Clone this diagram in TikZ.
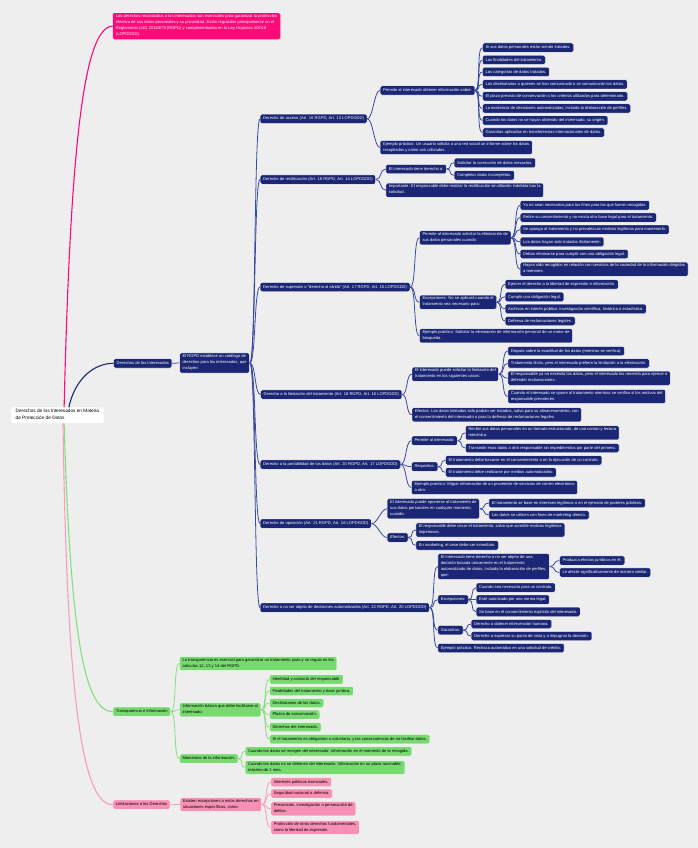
\documentclass[tikz,border=0pt]{standalone}
\usepackage{fontspec}
\setmainfont{Liberation Sans}
\usepackage{xcolor}
\usepackage{tikz}

\definecolor{bgcol}{HTML}{EEEEEE}
\definecolor{navyfill}{HTML}{1B2774}
\definecolor{navyline}{HTML}{3A4A9E}
\definecolor{greenfill}{HTML}{77D970}
\definecolor{greenline}{HTML}{86DE80}
\definecolor{pinkfill}{HTML}{F790B4}
\definecolor{pinkline}{HTML}{F79CBC}
\definecolor{hotfill}{HTML}{FF0A78}

\begin{document}
\begin{tikzpicture}[x=1pt, y=-1pt,
  box/.style={anchor=west, rounded corners=1.5pt, align=left, inner xsep=3pt, inner ysep=1.7pt,
    font=\fontsize{4.1}{6}\selectfont, execute at begin node=\strut, execute at end node=\strut},
  navybox/.style={box, draw=white, line width=0.4pt, fill=navyfill, text=white},
  greenbox/.style={box, draw=white, line width=0.4pt, fill=greenfill, text=black},
  pinkbox/.style={box, draw=white, line width=0.4pt, fill=pinkfill, text=black},
  hotbox/.style={box, fill=hotfill, text=white},
  rootbox/.style={box, fill=white, text=black, inner xsep=4.5pt, inner ysep=1.6pt,
    font=\fontsize{4.7}{7}\selectfont},
  nlink/.style={draw=navyline, line width=0.8pt, out=0, in=180, distance=6pt},
  glink/.style={draw=greenline, line width=0.8pt, out=0, in=180, distance=6pt},
  plink/.style={draw=pinkline, line width=0.8pt, out=0, in=180, distance=6pt},
]
\fill[bgcol] (0,0) rectangle (698,848);

% root and first level
\node[rootbox] (root) at (11,415.3) {Derechos de los Interesados en Materia\\de Protección de Datos};
\node[hotbox] (note) at (112.7,26.2) {Los derechos reconocidos a los interesados son esenciales para garantizar la protección\\efectiva de sus datos personales y su privacidad. Están regulados principalmente en el\\Reglamento (UE) 2016/679 (RGPD) y complementados en la Ley Orgánica 3/2018\\(LOPDGDD).};
\node[navybox] (rights) at (113.5,363.3) {Derechos de los Interesados};
\node[greenbox] (transp) at (112.7,711.7) {Transparencia e información};
\node[pinkbox] (limits) at (112.7,804.7) {Limitaciones a los Derechos};

\draw[draw=hotfill, line width=1.1pt] (root.50) .. controls +(6,-250) and +(-30,0) .. (note.west);
\draw[draw=navyfill, line width=1.1pt] (root.35) .. controls +(6,-28) and +(-20,0) .. (rights.west);
\draw[draw=greenline, line width=1.1pt] (root.-50) .. controls +(6,200) and +(-30,0) .. (transp.west);
\draw[draw=pinkline, line width=1.1pt] (root.-55) .. controls +(4,280) and +(-30,0) .. (limits.west);

% derechos
\node[navybox] (catalog) at (179.4,363) {El RGPD establece un catálogo de\\derechos para los interesados, que\\incluyen:};
\draw[nlink] (rights.east) to (catalog.west);

\node[navybox] (right_1) at (260,118.8) {Derecho de acceso (Art. 15 RGPD, Art. 13 LOPDGDD)};
\node[navybox] (right_2) at (260,179.5) {Derecho de rectificación (Art. 16 RGPD, Art. 14 LOPDGDD)};
\node[navybox] (right_3) at (260,287) {Derecho de supresión o "derecho al olvido" (Art. 17 RGPD, Art. 15 LOPDGDD)};
\node[navybox] (right_4) at (260.5,394.5) {Derecho a la limitación del tratamiento (Art. 18 RGPD, Art. 16 LOPDGDD)};
\node[navybox] (right_5) at (260,464.5) {Derecho a la portabilidad de los datos (Art. 20 RGPD, Art. 17 LOPDGDD)};
\node[navybox] (right_6) at (260,523.7) {Derecho de oposición (Art. 21 RGPD, Art. 18 LOPDGDD)};
\node[navybox] (right_7) at (260,607.7) {Derecho a no ser objeto de decisiones automatizadas (Art. 22 RGPD, Art. 20 LOPDGDD)};
\draw[nlink] (catalog.east) to (right_1.west);
\draw[nlink] (catalog.east) to (right_2.west);
\draw[nlink] (catalog.east) to (right_3.west);
\draw[nlink] (catalog.east) to (right_4.west);
\draw[nlink] (catalog.east) to (right_5.west);
\draw[nlink] (catalog.east) to (right_6.west);
\draw[nlink] (catalog.east) to (right_7.west);

% acceso
\node[navybox] (acc_info) at (380,90.5) {Permite al interesado obtener información sobre:};
\node[navybox] (acc_example) at (380,147.5) {Ejemplo práctico: Un usuario solicita a una red social un informe sobre los datos\\recopilados y cómo son utilizados.};
\draw[nlink] (right_1.east) to (acc_info.west);
\draw[nlink] (right_1.east) to (acc_example.west);
\node[navybox] (acc_item_1) at (482.3,47.7) {Si sus datos personales están siendo tratados.};
\node[navybox] (acc_item_2) at (482.3,60) {Las finalidades del tratamiento.};
\node[navybox] (acc_item_3) at (482.3,72) {Las categorías de datos tratados.};
\node[navybox] (acc_item_4) at (482.3,84.3) {Los destinatarios a quienes se han comunicado o se comunicarán los datos.};
\node[navybox] (acc_item_5) at (482.3,96.3) {El plazo previsto de conservación o los criterios utilizados para determinarlo.};
\node[navybox] (acc_item_6) at (482.3,108.5) {La existencia de decisiones automatizadas, incluida la elaboración de perfiles.};
\node[navybox] (acc_item_7) at (482.3,120.5) {Cuando los datos no se hayan obtenido del interesado, su origen.};
\node[navybox] (acc_item_8) at (482.3,132.7) {Garantías aplicadas en transferencias internacionales de datos.};
\draw[nlink] (acc_info.east) to (acc_item_1.west);
\draw[nlink] (acc_info.east) to (acc_item_2.west);
\draw[nlink] (acc_info.east) to (acc_item_3.west);
\draw[nlink] (acc_info.east) to (acc_item_4.west);
\draw[nlink] (acc_info.east) to (acc_item_5.west);
\draw[nlink] (acc_info.east) to (acc_item_6.west);
\draw[nlink] (acc_info.east) to (acc_item_7.west);
\draw[nlink] (acc_info.east) to (acc_item_8.west);

% rectificacion
\node[navybox] (rect_info) at (385.7,169) {El interesado tiene derecho a:};
\node[navybox] (rect_note) at (385.7,190.3) {Importante: El responsable debe realizar la rectificación sin dilación indebida tras la\\solicitud.};
\node[navybox] (rect_item_1) at (454,162.8) {Solicitar la corrección de datos inexactos.};
\node[navybox] (rect_item_2) at (454,175.3) {Completar datos incompletos.};
\draw[nlink] (right_2.east) to (rect_info.west);
\draw[nlink] (right_2.east) to (rect_note.west);
\draw[nlink] (rect_info.east) to (rect_item_1.west);
\draw[nlink] (rect_info.east) to (rect_item_2.west);

% supresion
\node[navybox] (sup_info) at (419.3,237.8) {Permite al interesado solicitar la eliminación de\\sus datos personales cuando:};
\node[navybox] (sup_exc) at (419.3,302.2) {Excepciones: No se aplicará cuando el\\tratamiento sea necesario para:};
\node[navybox] (sup_example) at (419.3,335.8) {Ejemplo práctico: Solicitar la eliminación de información personal de un motor de\\búsqueda.};
\draw[nlink] (right_3.east) to (sup_info.west);
\draw[nlink] (right_3.east) to (sup_exc.west);
\draw[nlink] (right_3.east) to (sup_example.west);
\node[navybox] (sup_item_1) at (520,205.3) {Ya no sean necesarios para los fines para los que fueron recogidos.};
\node[navybox] (sup_item_2) at (520,217.5) {Retire su consentimiento y no exista otra base legal para el tratamiento.};
\node[navybox] (sup_item_3) at (520,229.7) {Se oponga al tratamiento y no prevalezcan motivos legítimos para mantenerlo.};
\node[navybox] (sup_item_4) at (520,241.8) {Los datos hayan sido tratados ilícitamente.};
\node[navybox] (sup_item_5) at (520,254) {Deban eliminarse para cumplir con una obligación legal.};
\node[navybox] (sup_item_6) at (520,269.3) {Hayan sido recogidos en relación con servicios de la sociedad de la información dirigidos\\a menores.};
\draw[nlink] (sup_info.east) to (sup_item_1.west);
\draw[nlink] (sup_info.east) to (sup_item_2.west);
\draw[nlink] (sup_info.east) to (sup_item_3.west);
\draw[nlink] (sup_info.east) to (sup_item_4.west);
\draw[nlink] (sup_info.east) to (sup_item_5.west);
\draw[nlink] (sup_info.east) to (sup_item_6.west);
\node[navybox] (sup_exc_1) at (505,284.3) {Ejercer el derecho a la libertad de expresión e información.};
\node[navybox] (sup_exc_2) at (505,296.8) {Cumplir una obligación legal.};
\node[navybox] (sup_exc_3) at (505,308.8) {Archivos en interés público, investigación científica, histórica o estadística.};
\node[navybox] (sup_exc_4) at (505,321) {Defensa de reclamaciones legales.};
\draw[nlink] (sup_exc.east) to (sup_exc_1.west);
\draw[nlink] (sup_exc.east) to (sup_exc_2.west);
\draw[nlink] (sup_exc.east) to (sup_exc_3.west);
\draw[nlink] (sup_exc.east) to (sup_exc_4.west);

% limitacion
\node[navybox] (lim_info) at (411.8,374.2) {El interesado puede solicitar la limitación del\\tratamiento en los siguientes casos:};
\node[navybox] (lim_effect) at (411.8,414.8) {Efectos: Los datos limitados solo podrán ser tratados, salvo para su almacenamiento, con\\el consentimiento del interesado o para la defensa de reclamaciones legales.};
\draw[nlink] (right_4.east) to (lim_info.west);
\draw[nlink] (right_4.east) to (lim_effect.west);
\node[navybox] (lim_item_1) at (507.6,351) {Disputa sobre la exactitud de los datos (mientras se verifica).};
\node[navybox] (lim_item_2) at (507.6,363.3) {Tratamiento ilícito, pero el interesado prefiere la limitación a la eliminación.};
\node[navybox] (lim_item_3) at (507.6,378.2) {El responsable ya no necesita los datos, pero el interesado los necesita para ejercer o\\defender reclamaciones.};
\node[navybox] (lim_item_4) at (507.6,396.5) {Cuando el interesado se opone al tratamiento mientras se verifica si los motivos del\\responsable prevalecen.};
\draw[nlink] (lim_info.east) to (lim_item_1.west);
\draw[nlink] (lim_info.east) to (lim_item_2.west);
\draw[nlink] (lim_info.east) to (lim_item_3.west);
\draw[nlink] (lim_info.east) to (lim_item_4.west);

% portabilidad
\node[navybox] (port_info) at (411.3,440.7) {Permite al interesado:};
\node[navybox] (port_req) at (411.3,466.7) {Requisitos:};
\node[navybox] (port_example) at (411.3,487.5) {Ejemplo práctico: Migrar información de un proveedor de servicios de correo electrónico\\a otro.};
\draw[nlink] (right_5.east) to (port_info.west);
\draw[nlink] (right_5.east) to (port_req.west);
\draw[nlink] (right_5.east) to (port_example.west);
\node[navybox] (port_item_1) at (465.3,432.8) {Recibir sus datos personales en un formato estructurado, de uso común y lectura\\mecánica.};
\node[navybox] (port_item_2) at (465.3,448) {Transmitir esos datos a otro responsable sin impedimentos por parte del primero.};
\node[navybox] (port_req_1) at (445.3,460.3) {El tratamiento debe basarse en el consentimiento o en la ejecución de un contrato.};
\node[navybox] (port_req_2) at (445.3,472.3) {El tratamiento debe realizarse por medios automatizados.};
\draw[nlink] (port_info.east) to (port_item_1.west);
\draw[nlink] (port_info.east) to (port_item_2.west);
\draw[nlink] (port_req.east) to (port_req_1.west);
\draw[nlink] (port_req.east) to (port_req_2.west);

% oposicion
\node[navybox] (opp_info) at (387,508.8) {El interesado puede oponerse al tratamiento de\\sus datos personales en cualquier momento,\\cuando:};
\node[navybox] (opp_effect) at (387,537.5) {Efectos:};
\draw[nlink] (right_6.east) to (opp_info.west);
\draw[nlink] (right_6.east) to (opp_effect.west);
\node[navybox] (opp_item_1) at (488.7,503) {El tratamiento se base en intereses legítimos o en el ejercicio de poderes públicos.};
\node[navybox] (opp_item_2) at (488.7,515) {Los datos se utilicen con fines de marketing directo.};
\node[navybox] (opp_effect_1) at (415.7,530) {El responsable debe cesar el tratamiento, salvo que acredite motivos legítimos\\imperiosos.};
\node[navybox] (opp_effect_2) at (415.7,545.3) {En marketing, el cese debe ser inmediato.};
\draw[nlink] (opp_info.east) to (opp_item_1.west);
\draw[nlink] (opp_info.east) to (opp_item_2.west);
\draw[nlink] (opp_effect.east) to (opp_effect_1.west);
\draw[nlink] (opp_effect.east) to (opp_effect_2.west);

% decisiones automatizadas
\node[navybox] (auto_info) at (437.7,566.5) {El interesado tiene derecho a no ser objeto de una\\decisión basada únicamente en el tratamiento\\automatizado de datos, incluida la elaboración de perfiles,\\que:};
\node[navybox] (auto_exc) at (437.7,599.7) {Excepciones:};
\node[navybox] (auto_guar) at (437.7,630.2) {Garantías:};
\node[navybox] (auto_example) at (437.7,648) {Ejemplo práctico: Rechazo automático en una solicitud de crédito.};
\draw[nlink] (right_7.east) to (auto_info.west);
\draw[nlink] (right_7.east) to (auto_exc.west);
\draw[nlink] (right_7.east) to (auto_guar.west);
\draw[nlink] (right_7.east) to (auto_example.west);
\node[navybox] (auto_item_1) at (559.3,560.5) {Produzca efectos jurídicos en él.};
\node[navybox] (auto_item_2) at (559.3,572.5) {Le afecte significativamente de manera similar.};
\node[navybox] (auto_exc_1) at (476,587.7) {Cuando sea necesario para un contrato.};
\node[navybox] (auto_exc_2) at (476,599.7) {Esté autorizado por una norma legal.};
\node[navybox] (auto_exc_3) at (476,611.8) {Se base en el consentimiento explícito del interesado.};
\node[navybox] (auto_guar_1) at (471,624) {Derecho a obtener intervención humana.};
\node[navybox] (auto_guar_2) at (471,636) {Derecho a expresar su punto de vista y a impugnar la decisión.};
\draw[nlink] (auto_info.east) to (auto_item_1.west);
\draw[nlink] (auto_info.east) to (auto_item_2.west);
\draw[nlink] (auto_exc.east) to (auto_exc_1.west);
\draw[nlink] (auto_exc.east) to (auto_exc_2.west);
\draw[nlink] (auto_exc.east) to (auto_exc_3.west);
\draw[nlink] (auto_guar.east) to (auto_guar_1.west);
\draw[nlink] (auto_guar.east) to (auto_guar_2.west);

% transparencia
\node[greenbox] (transp_note) at (179.3,663.5) {La transparencia es esencial para garantizar un tratamiento justo y se regula en los\\artículos 12, 13 y 14 del RGPD.};
\node[greenbox] (transp_info) at (179.3,709.8) {Información básica que debe facilitarse al\\interesado:};
\node[greenbox] (transp_moments) at (179.3,758.7) {Momentos de la información:};
\draw[glink] (transp.east) to (transp_note.west);
\draw[glink] (transp.east) to (transp_info.west);
\draw[glink] (transp.east) to (transp_moments.west);
\node[greenbox] (transp_item_1) at (269.3,679.3) {Identidad y contacto del responsable.};
\node[greenbox] (transp_item_2) at (269.3,691) {Finalidades del tratamiento y base jurídica.};
\node[greenbox] (transp_item_3) at (269.3,703) {Destinatarios de los datos.};
\node[greenbox] (transp_item_4) at (269.3,714.7) {Plazos de conservación.};
\node[greenbox] (transp_item_5) at (269.3,727) {Derechos del interesado.};
\node[greenbox] (transp_item_6) at (269.3,739.2) {Si el tratamiento es obligatorio o voluntario, y las consecuencias de no facilitar datos.};
\draw[glink] (transp_info.east) to (transp_item_1.west);
\draw[glink] (transp_info.east) to (transp_item_2.west);
\draw[glink] (transp_info.east) to (transp_item_3.west);
\draw[glink] (transp_info.east) to (transp_item_4.west);
\draw[glink] (transp_info.east) to (transp_item_5.west);
\draw[glink] (transp_info.east) to (transp_item_6.west);
\node[greenbox] (transp_moment_1) at (245,751.3) {Cuando los datos se recogen del interesado: Información en el momento de la recogida.};
\node[greenbox] (transp_moment_2) at (245,767.5) {Cuando los datos no se obtienen del interesado: Información en un plazo razonable,\\máximo de 1 mes.};
\draw[glink] (transp_moments.east) to (transp_moment_1.west);
\draw[glink] (transp_moments.east) to (transp_moment_2.west);

% limitaciones
\node[pinkbox] (limits_info) at (180,804.5) {Existen excepciones a estos derechos en\\situaciones específicas, como:};
\draw[plink] (limits.east) to (limits_info.west);
\node[pinkbox] (limits_item_1) at (270.7,782) {Intereses públicos esenciales.};
\node[pinkbox] (limits_item_2) at (270.7,793.7) {Seguridad nacional o defensa.};
\node[pinkbox] (limits_item_3) at (270.7,808.8) {Prevención, investigación o persecución de\\delitos.};
\node[pinkbox] (limits_item_4) at (270.7,827.5) {Protección de otros derechos fundamentales,\\como la libertad de expresión.};
\draw[plink] (limits_info.east) to (limits_item_1.west);
\draw[plink] (limits_info.east) to (limits_item_2.west);
\draw[plink] (limits_info.east) to (limits_item_3.west);
\draw[plink] (limits_info.east) to (limits_item_4.west);

\end{tikzpicture}
\end{document}
